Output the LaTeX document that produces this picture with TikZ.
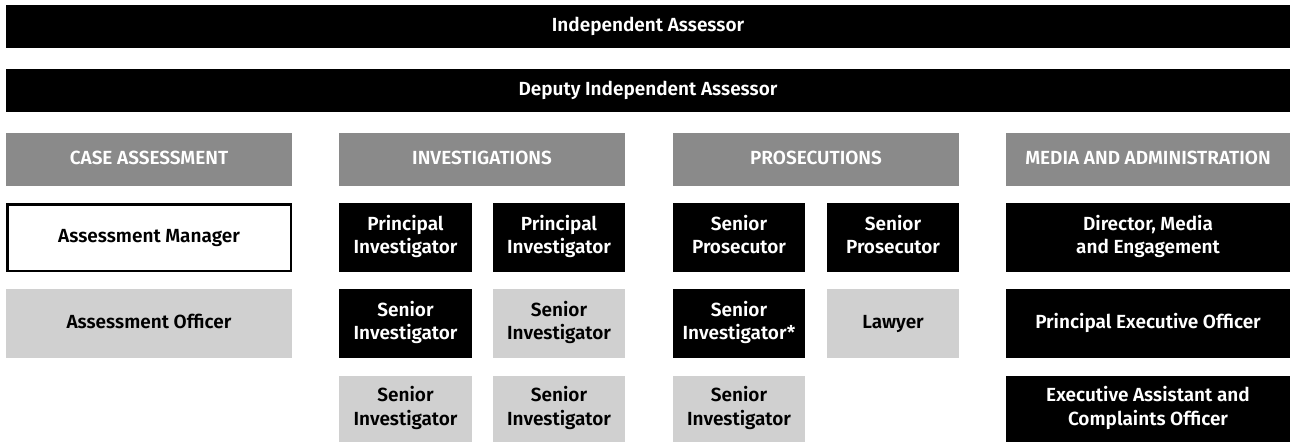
\documentclass[tikz,border=0pt]{standalone}
\usepackage{fontspec}
\setmainfont{Fira Sans}[BoldFont={Fira Sans SemiBold}]
\definecolor{headgray}{HTML}{8A8A8A}
\definecolor{lightgray}{HTML}{D0D0D0}
\tikzset{
  box/.style={rectangle, inner sep=0pt, outer sep=0pt, align=center,
    font=\fontsize{19}{23.5}\selectfont\bfseries},
  darkbox/.style={box, fill=black, text=white},
  headbox/.style={box, fill=headgray, text=white},
  lightbox/.style={box, fill=lightgray, text=black},
  openbox/.style={box, fill=white, draw=black, line width=2.5pt, text=black},
}
% place a box by its corners: x1, y1, x2, y2 (struts keep the text centred alike)
\newcommand{\orgbox}[7]{%
  \node[#1, minimum width={#4-#3}, minimum height={#6-#5}] (#2)
    at ({(#3+#4)/2},{(#5+#6)/2}) {\strut #7\strut};}
\begin{document}
\begin{tikzpicture}[x=1pt,y=-1pt]
\useasboundingbox (0,0) rectangle (1290,442);
% executive
\orgbox{darkbox}{ia}{6}{1290}{5}{48}{Independent Assessor}
\orgbox{darkbox}{dia}{6}{1290}{69}{112}{Deputy Independent Assessor}
% section headings
\orgbox{headbox}{hca}{6}{292}{133}{186}{CASE ASSESSMENT}
\orgbox{headbox}{hinv}{339}{625}{133}{186}{INVESTIGATIONS}
\orgbox{headbox}{hpro}{673}{959}{133}{186}{PROSECUTIONS}
\orgbox{headbox}{hmed}{1006}{1290}{133}{186}{MEDIA AND ADMINISTRATION}
% case assessment
\node[openbox, minimum width=283.5pt, minimum height=66.5pt] (am) at (149,237.5) {\strut Assessment Manager\strut};
\orgbox{lightbox}{ao}{6}{292}{289}{358}{Assessment Officer}
% investigations
\orgbox{darkbox}{pi1}{339}{472}{203}{272}{Principal\\Investigator}
\orgbox{darkbox}{pi2}{493}{625}{203}{272}{Principal\\Investigator}
\orgbox{darkbox}{si1}{339}{472}{289}{358}{Senior\\Investigator}
\orgbox{lightbox}{si2}{493}{625}{289}{358}{Senior\\Investigator}
\orgbox{lightbox}{si3}{339}{472}{376}{442}{Senior\\Investigator}
\orgbox{lightbox}{si4}{493}{625}{376}{442}{Senior\\Investigator}
% prosecutions
\orgbox{darkbox}{sp1}{673}{805}{203}{272}{Senior\\Prosecutor}
\orgbox{darkbox}{sp2}{827}{959}{203}{272}{Senior\\Prosecutor}
\orgbox{darkbox}{psi1}{673}{805}{289}{358}{Senior\\Investigator*}
\orgbox{lightbox}{law}{827}{959}{289}{358}{Lawyer}
\orgbox{lightbox}{psi2}{673}{805}{376}{442}{Senior\\Investigator}
% media and administration
\orgbox{darkbox}{dme}{1006}{1290}{203}{272}{Director, Media\\and Engagement}
\orgbox{darkbox}{peo}{1006}{1290}{289}{358}{Principal Executive Officer}
\orgbox{darkbox}{eac}{1006}{1290}{376}{442}{Executive Assistant and\\Complaints Officer}
\end{tikzpicture}
\end{document}
